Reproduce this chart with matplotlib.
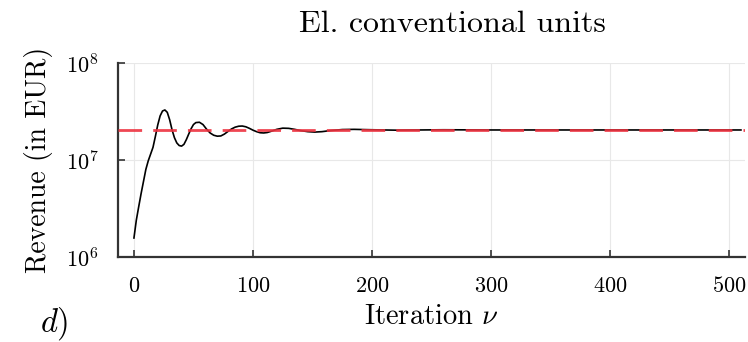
import numpy as np
import matplotlib
matplotlib.use("Agg")
import matplotlib.pyplot as plt
from matplotlib.ticker import LogFormatterMathtext, FixedLocator

plt.rcParams['font.family'] = 'serif'
plt.rcParams['font.serif'] = ['cmr10', 'DejaVu Serif']
plt.rcParams['mathtext.fontset'] = 'cm'
plt.rcParams['axes.formatter.use_mathtext'] = True

# Data (revenue in EUR)
iterations = [0, 2, 4, 6, 8, 10, 12, 14, 16, 18, 20, 22, 24, 26, 28, 30, 32, 34, 36, 38,
              40, 42, 44, 46, 48, 50, 52, 55, 58, 61, 64, 67, 70, 73, 76, 79, 82, 85, 88,
              91, 94, 97, 100, 103, 106, 109, 112, 116, 120, 125, 130, 135, 140, 146, 152,
              158, 165, 175, 185, 200, 220, 240, 260, 300, 350, 400, 450, 510]
revenue_1e7 = [0.157, 0.24, 0.33, 0.45, 0.60, 0.80, 0.98, 1.15, 1.35, 1.75, 2.30, 2.85, 3.20,
               3.28, 3.10, 2.60, 2.05, 1.70, 1.50, 1.41, 1.39, 1.45, 1.62, 1.85, 2.10, 2.32,
               2.43, 2.45, 2.32, 2.08, 1.90, 1.80, 1.76, 1.77, 1.85, 1.97, 2.09, 2.18, 2.23,
               2.24, 2.20, 2.12, 2.03, 1.96, 1.91, 1.90, 1.92, 1.99, 2.07, 2.13, 2.12, 2.07,
               2.01, 1.96, 1.94, 1.96, 2.01, 2.06, 2.07, 2.05, 2.03, 2.04, 2.05, 2.04, 2.04,
               2.04, 2.04, 2.04]
target_revenue = 2.04e7
x_ticks = [0, 100, 200, 300, 400, 500]
y_ticks = [1e6, 1e7, 1e8]

revenue = np.array(revenue_1e7) * 1e7

fig = plt.figure(figsize=(7.48, 3.42), dpi=100)
ax = fig.add_axes([118/748, 85/342, (745-118)/748, (257-63)/342])

ax.plot(iterations, revenue, color='black', lw=1.2, zorder=3)
ax.axhline(target_revenue, color=(0.93, 0.2, 0.25), alpha=0.9, lw=2.0, dashes=(8.5, 4), zorder=4)

ax.set_yscale('log')
ax.set_ylim(1e6, 1e8)
ax.set_xlim(-13.4, 513.4)
ax.yaxis.set_major_locator(FixedLocator(y_ticks))
ax.yaxis.set_minor_locator(FixedLocator([]))
ax.yaxis.set_major_formatter(LogFormatterMathtext())
ax.set_xticks(x_ticks)

ax.grid(True, color='#e8e8e8', lw=0.8)
ax.set_axisbelow(True)
for s in ['top', 'right']:
    ax.spines[s].set_visible(False)
for s in ['left', 'bottom']:
    ax.spines[s].set_linewidth(1.6)
    ax.spines[s].set_color('#333333')
ax.tick_params(direction='in', length=5, width=1.2, labelsize=16, color='#333333')
ax.tick_params(axis='x', pad=14)
ax.tick_params(axis='y', pad=14)

ax.set_title('El. conventional units', fontsize=23, pad=22, x=(452-118)/627)
ax.set_xlabel(r'Iteration $\nu$', fontsize=20.5, labelpad=5)
ax.set_ylabel('Revenue (in EUR)', fontsize=20, labelpad=9)

fig.text(40/748, 1 - 324/342, r'$d)$', fontsize=23.5, va='center', ha='left')

fig.savefig('out.png', dpi=100)
